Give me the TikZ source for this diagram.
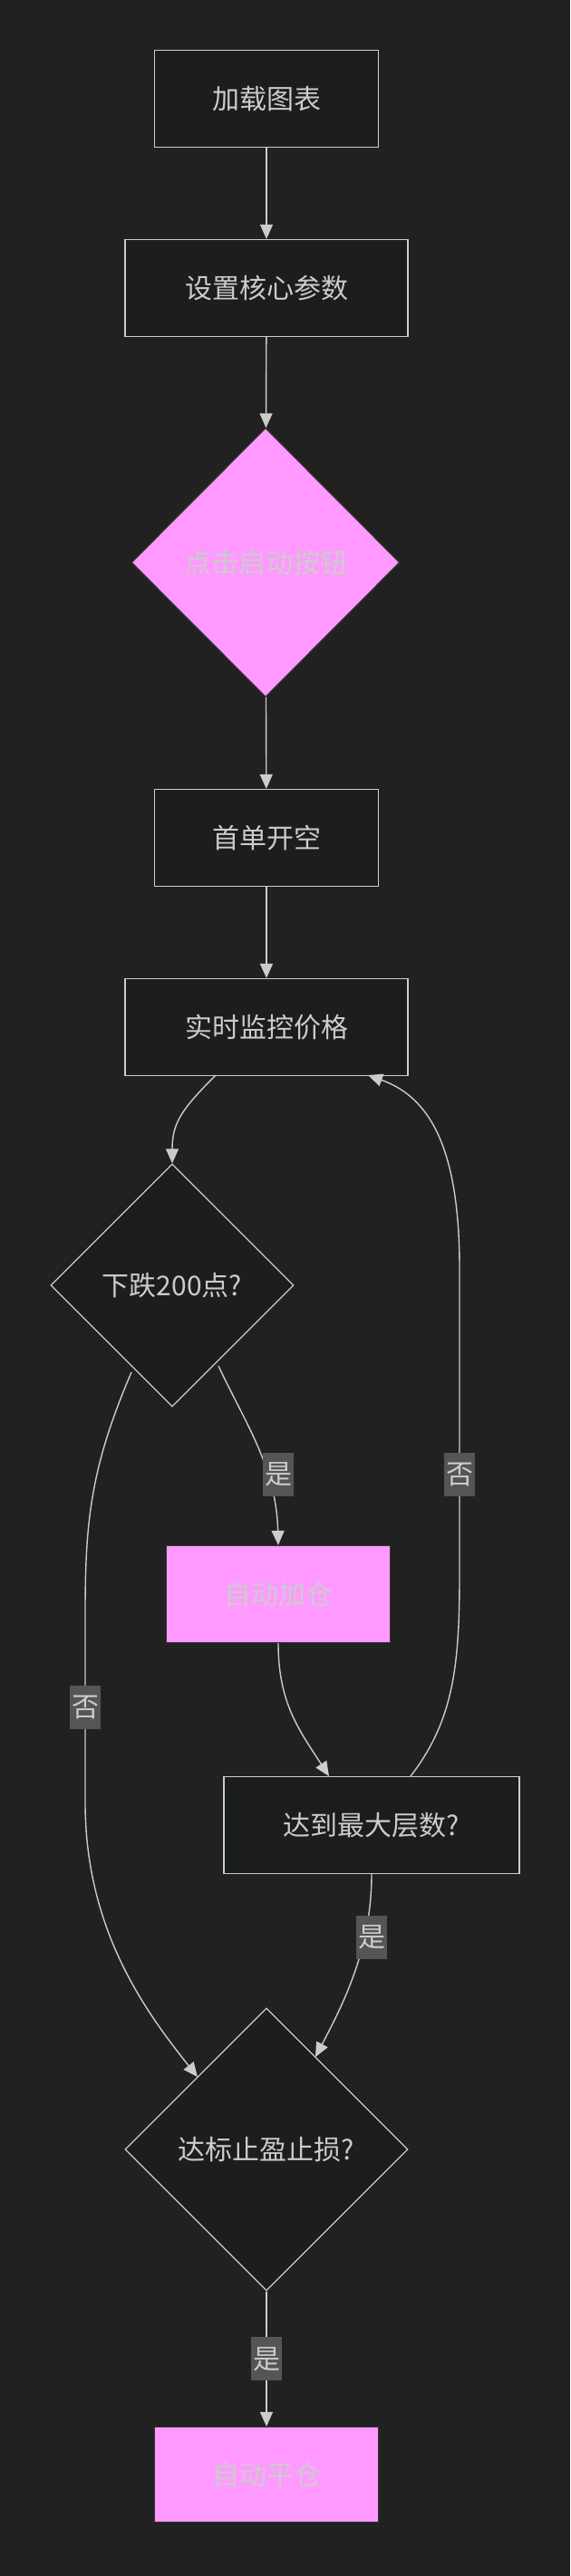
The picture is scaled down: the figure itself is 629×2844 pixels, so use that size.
\documentclass[tikz,border=0pt]{standalone}
\usepackage{fontspec}
\setmainfont{Noto Sans CJK SC}
\usetikzlibrary{shapes.geometric,arrows.meta}
\definecolor{bg}{HTML}{212121}
\definecolor{nf}{HTML}{1C1E1E}
\definecolor{ln}{HTML}{CCCCCC}
\definecolor{pk}{HTML}{FF99FF}
\definecolor{lb}{HTML}{555555}
\begin{document}
\begin{tikzpicture}[x=1pt,y=-1pt,
  font=\fontsize{30}{34}\selectfont,
  box/.style={draw=ln,line width=1.2pt,fill=nf,text=ln,minimum height=107pt,inner sep=0pt},
  dia/.style={diamond,draw=ln,line width=1.2pt,fill=nf,text=ln,inner sep=0pt,aspect=1},
  pink/.style={fill=pk,draw=black!80,text=ln},
  e/.style={draw=ln,line width=1.4pt,-{Triangle[length=16pt,width=14pt]}},
  lab/.style={fill=lb,text=ln,inner sep=2pt,minimum width=32pt,minimum height=48pt}]
\fill[bg] (0,0) rectangle (629,2844);
\useasboundingbox (0,0) rectangle (629,2844);
\node[box,minimum width=247pt] (a) at (294,109) {加载图表};
\node[box,minimum width=312pt] (b) at (294,318) {设置核心参数};
\node[dia,pink,minimum width=296pt,minimum height=297pt] (c) at (293,621) {点击启动按钮};
\node[box,minimum width=247pt] (d) at (294,925) {首单开空};
\node[box,minimum width=312pt] (m) at (294,1134) {实时监控价格};
\node[dia,minimum width=268pt,minimum height=268pt] (f) at (190,1419) {下跌200点?};
\node[box,pink,minimum width=247pt] (g) at (307,1760) {自动加仓};
\node[box,minimum width=326pt] (h) at (410,2015) {达到最大层数?};
\node[dia,minimum width=312pt,minimum height=312pt] (i) at (294,2373) {达标止盈止损?};
\node[box,pink,minimum width=247pt,minimum height=105pt] (j) at (294,2732) {自动平仓};
\coordinate (c1) at (145,1515);
\coordinate (c2) at (218,2293);
\coordinate (c3) at (453,1961);
\coordinate (c4) at (406,1187);
\draw[e] (a) -- (b);
\draw[e] (b) -- (c);
\draw[e] (c) -- (d);
\draw[e] (d) -- (m);
\draw[e] (238,1187) .. controls (200,1225) and (190,1240) .. (f.north);
\draw[e] (241,1508) .. controls (270,1570) and (305,1620) .. (g.north);
\node[lab] at (307,1628) {是};
\draw[e] (c1) .. controls (100,1620) and (94,1680) .. (94,1780) -- (94,1990) .. controls (94,2130) and (160,2220) .. (c2);
\node[lab] at (94,1885) {否};
\draw[e] (g.south) .. controls (307,1880) and (330,1910) .. (363,1961);
\draw[e] (c3) .. controls (500,1900) and (507,1840) .. (507,1740) -- (507,1400) .. controls (507,1260) and (470,1210) .. (c4);
\node[lab] at (507,1628) {否};
\draw[e] (h.south) .. controls (410,2150) and (380,2210) .. (348,2271);
\node[lab] at (410,2139) {是};
\draw[e] (i.south) -- (j.north) node[lab,pos=0.5] {是};
\end{tikzpicture}
\end{document}
